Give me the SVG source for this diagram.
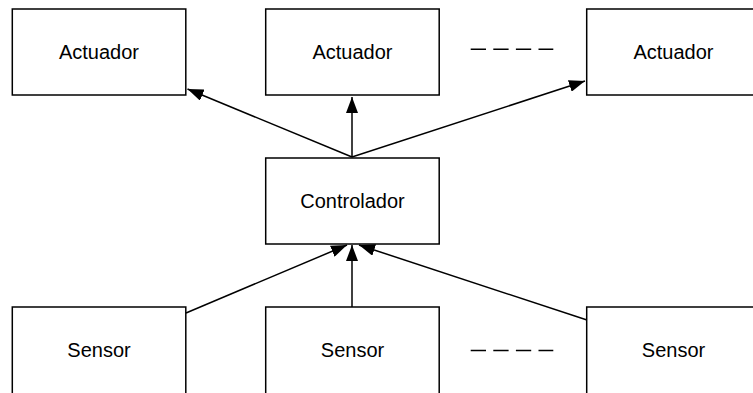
<svg xmlns="http://www.w3.org/2000/svg" width="753" height="393" viewBox="0 0 753 393">
<style>
.box{fill:#fff;stroke:#000;stroke-width:1.5}
.lbl{font-family:"Liberation Sans",Arial,sans-serif;font-size:20px;fill:#000;text-anchor:middle}
.edge{stroke:#000;stroke-width:1.5;fill:none}
.dash{stroke:#000;stroke-width:1.5;stroke-dasharray:15.3 7.3;fill:none}
</style>
<defs>
<marker id="ah" viewBox="0 0 16 12" refX="16" refY="6" markerWidth="16" markerHeight="12" markerUnits="userSpaceOnUse" orient="auto">
<path d="M0,0 L16,6 L0,12 z" fill="#000"/>
</marker>
</defs>
<rect width="753" height="393" fill="#fff"/>
<g id="connectors">
<line class="edge" x1="352" y1="157" x2="187.5" y2="89" marker-end="url(#ah)"/>
<line class="edge" x1="352" y1="157" x2="352" y2="97" marker-end="url(#ah)"/>
<line class="edge" x1="352" y1="157" x2="585" y2="81" marker-end="url(#ah)"/>
<line class="edge" x1="186" y1="313" x2="347" y2="245" marker-end="url(#ah)"/>
<line class="edge" x1="352" y1="307" x2="352" y2="245" marker-end="url(#ah)"/>
<line class="edge" x1="587" y1="320" x2="359" y2="245" marker-end="url(#ah)"/>
<line class="dash" x1="470.7" y1="49.3" x2="553.3" y2="49.3"/>
<line class="dash" x1="470.7" y1="350.5" x2="553.3" y2="350.5"/>
</g>
<g id="act1"><rect class="box" x="12.3" y="9" width="173.5" height="86"/><text class="lbl" x="99" y="58.5">Actuador</text></g>
<g id="act2"><rect class="box" x="265.7" y="9" width="173.5" height="86"/><text class="lbl" x="352.5" y="58.5">Actuador</text></g>
<g id="act3"><rect class="box" x="586.7" y="9" width="173.5" height="86"/><text class="lbl" x="673.5" y="58.5">Actuador</text></g>
<g id="ctrl"><rect class="box" x="265.7" y="158" width="173.5" height="86"/><text class="lbl" x="352.5" y="207.5">Controlador</text></g>
<g id="sen1"><rect class="box" x="12.3" y="307" width="173.5" height="88"/><text class="lbl" x="99" y="357.3">Sensor</text></g>
<g id="sen2"><rect class="box" x="265.7" y="307" width="173.5" height="88"/><text class="lbl" x="352.5" y="357.3">Sensor</text></g>
<g id="sen3"><rect class="box" x="586.7" y="307" width="173.5" height="88"/><text class="lbl" x="673.5" y="357.3">Sensor</text></g>
</svg>
